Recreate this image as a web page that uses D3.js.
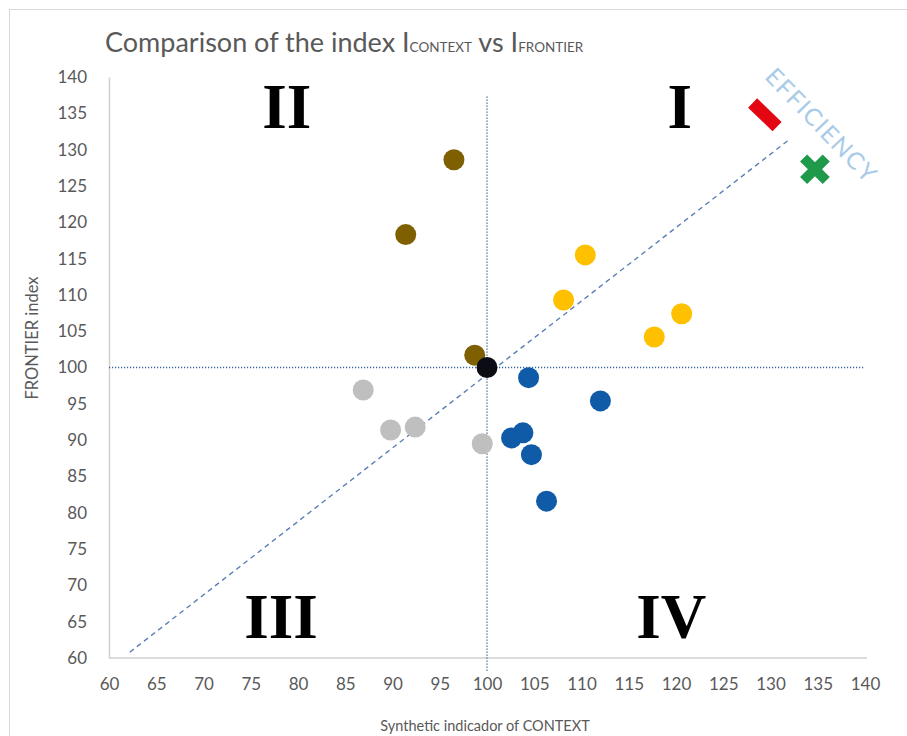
<!DOCTYPE html>
<html>
<head>
<meta charset="utf-8">
<script src="https://cdn.jsdelivr.net/npm/d3@7"></script>
<style>
  body { margin: 0; background: #fff; }
  text { font-family: Lato, "Open Sans", sans-serif; }
</style>
</head>
<body>
<div id="chart"></div>
<script>
// data
const brown = [[96.5, 128.6], [91.4, 118.3], [98.7, 101.7]];
const yellow = [[110.4, 115.5], [108.1, 109.3], [117.7, 104.2], [120.6, 107.4]];
const blue = [[104.4, 98.6], [112.0, 95.4], [102.6, 90.3], [103.8, 91.0], [104.7, 88.0], [106.3, 81.6]];
const grey = [[86.9, 96.9], [89.8, 91.4], [92.4, 91.8], [99.5, 89.5]];
const centre = [[100, 100]];
const redMark = [129.4, 134.8];
const greenMark = [134.7, 127.3];
const diagonal = [[62.2, 60.8], [131.9, 131.3]];
const ticks = [60, 65, 70, 75, 80, 85, 90, 95, 100, 105, 110, 115, 120, 125, 130, 135, 140];
const quadrants = [
  {label: "II", x: 78.8, y: 133.0},
  {label: "I", x: 120.4, y: 133.0},
  {label: "III", x: 78.2, y: 62.8},
  {label: "IV", x: 119.5, y: 62.8}
];

const width = 907, height = 736;
const svg = d3.select("#chart").append("svg")
  .attr("width", width)
  .attr("height", height);

const x = d3.scaleLinear().domain([60, 140]).range([109, 865]);
const y = d3.scaleLinear().domain([60, 140]).range([658, 77]);

// outer frame
svg.append("rect")
  .attr("x", 9.5).attr("y", 9.5)
  .attr("width", 920).attr("height", 760)
  .attr("fill", "none")
  .attr("stroke", "#d9d9d9");

// title
const title = svg.append("text")
  .attr("x", 105).attr("y", 52)
  .attr("fill", "#595959")
  .attr("font-size", 27);
title.append("tspan").text("Comparison of the index I");
title.append("tspan").attr("font-size", 13.5).text("CONTEXT");
title.append("tspan").text(" vs I");
title.append("tspan").attr("font-size", 13.5).text("FRONTIER");

// axes
const xAxis = svg.append("g")
  .attr("transform", "translate(0," + y(60) + ")")
  .call(d3.axisBottom(x).tickValues(ticks).tickSize(0).tickPadding(20));
const yAxis = svg.append("g")
  .attr("transform", "translate(" + x(60) + ",0)")
  .call(d3.axisLeft(y).tickValues(ticks).tickSize(0).tickPadding(22));

[xAxis, yAxis].forEach(function(a) {
  a.select(".domain").attr("stroke", "#d0d0d0").attr("stroke-width", 1.5);
  a.selectAll("text")
    .attr("fill", "#595959")
    .attr("font-size", 17)
    .style("font-family", "Lato, sans-serif");
});
xAxis.select(".domain").attr("d", "M" + x(60) + ",0H" + (x(140) + 2));

svg.append("text")
  .attr("x", 485).attr("y", 731)
  .attr("text-anchor", "middle")
  .attr("fill", "#595959")
  .attr("font-size", 14.5)
  .text("Synthetic indicador of CONTEXT");

svg.append("text")
  .attr("transform", "translate(38,338) rotate(-90)")
  .attr("text-anchor", "middle")
  .attr("fill", "#595959")
  .attr("font-size", 16.5)
  .text("FRONTIER index");

// reference lines at 100
svg.append("line")
  .attr("x1", x(100)).attr("x2", x(100))
  .attr("y1", y(137.3)).attr("y2", y(58))
  .attr("stroke", "#3a64a0")
  .attr("stroke-width", 1.3)
  .attr("stroke-dasharray", "1.2,1.8");
svg.append("line")
  .attr("x1", x(60)).attr("x2", x(140))
  .attr("y1", y(100)).attr("y2", y(100))
  .attr("stroke", "#3a64a0")
  .attr("stroke-width", 1.3)
  .attr("stroke-dasharray", "1.2,1.8");

// efficiency diagonal
svg.append("path")
  .datum(diagonal)
  .attr("d", d3.line().x(function(d) { return x(d[0]); }).y(function(d) { return y(d[1]); }))
  .attr("stroke", "#5b7fb5")
  .attr("stroke-width", 1.4)
  .attr("stroke-dasharray", "5,4")
  .attr("fill", "none");

svg.append("text")
  .attr("transform", "translate(" + x(135.2) + "," + y(133.1) + ") rotate(46)")
  .attr("text-anchor", "middle")
  .attr("dominant-baseline", "middle")
  .attr("fill", "#a9cbe8")
  .attr("font-size", 24)
  .attr("letter-spacing", 1.5)
  .text("EFFICIENCY");

// points
function dots(data, colour) {
  svg.append("g").selectAll("circle")
    .data(data)
    .enter().append("circle")
    .attr("cx", function(d) { return x(d[0]); })
    .attr("cy", function(d) { return y(d[1]); })
    .attr("r", 10.5)
    .attr("fill", colour);
}
dots(grey, "#bfbfbf");
dots(blue, "#0f5ba7");
dots(yellow, "#ffc000");
dots(brown, "#7f6000");
dots(centre, "#0c0c14");

// red dash marker
svg.append("rect")
  .attr("x", -17).attr("y", -6.5)
  .attr("width", 34).attr("height", 13)
  .attr("fill", "#e30613")
  .attr("transform", "translate(" + x(redMark[0]) + "," + y(redMark[1]) + ") rotate(44)");

// green cross marker
const cross = svg.append("g")
  .attr("transform", "translate(" + x(greenMark[0]) + "," + y(greenMark[1]) + ") rotate(45)");
cross.append("rect").attr("x", -16).attr("y", -5).attr("width", 32).attr("height", 10).attr("fill", "#1e9a4a");
cross.append("rect").attr("x", -5).attr("y", -16).attr("width", 10).attr("height", 32).attr("fill", "#1e9a4a");

// quadrant labels
svg.append("g").selectAll("text")
  .data(quadrants)
  .enter().append("text")
  .attr("x", function(d) { return x(d.x); })
  .attr("y", function(d) { return y(d.y); })
  .attr("text-anchor", "middle")
  .style("font-family", "'Liberation Serif', serif")
  .attr("font-weight", "bold")
  .attr("font-size", 63)
  .attr("fill", "#000")
  .text(function(d) { return d.label; });
</script>
</body>
</html>
